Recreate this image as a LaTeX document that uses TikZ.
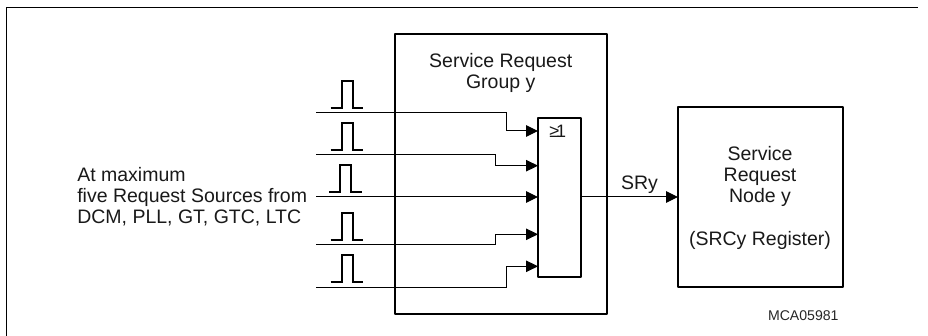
\documentclass[tikz,border=0pt]{standalone}
\usepackage{fontspec}
\setmainfont{Liberation Sans}
\usetikzlibrary{arrows.meta}
\tikzset{
  box/.style={draw=black,line width=2.3pt,inner sep=0pt,outer sep=0pt,fill=none,line join=round},
  frameline/.style={draw=black,line width=1.7pt},
  wire/.style={draw=black,line width=1pt},
  arrowwire/.style={wire,-{Triangle[length=12pt,width=11.5pt]}},
  pulse/.style={draw=black,line width=2pt},
  label/.style={inner sep=0pt,outer sep=0pt,font=\fontsize{19.5}{21.4}\selectfont,text=black!90},
  small/.style={inner sep=0pt,outer sep=0pt,font=\fontsize{14.1}{16}\selectfont,text=black!85},
  pics/pulseshape/.style={code={\draw[pulse] (0,0) -- ++(11,0) -- ++(0,-#1) -- ++(11,0) -- ++(0,#1) -- ++(10.7,0);}}
}
\begin{document}
\begin{tikzpicture}[x=1pt,y=-1pt]
\useasboundingbox (0,0) rectangle (928,336);
% outer frame
\coordinate (frameBL) at (6.5,336);
\coordinate (frameTR) at (918,7.5);
\draw[frameline] (frameBL) |- (frameTR);
% boxes
\node[box,minimum width=212pt,minimum height=280pt,anchor=north west] (group) at (395,33.7) {};
\node[box,minimum width=43pt,minimum height=159pt,anchor=north west] (orgate) at (538,118) {};
\node[box,minimum width=165pt,minimum height=180pt,anchor=north west] (srn) at (678,107) {};
% texts
\node[label,align=center,anchor=base] (grouptext) at (500.7,89) {Service Request\\Group y};
\node[label,align=center,anchor=base] (srntext) at (760,245.7) {Service\\Request\\Node y\\[21.4pt](SRCy Register)};
\node[label,align=left,anchor=base west] (srctext) at (77.3,224) {At maximum\\five Request Sources from\\DCM, PLL, GT, GTC, LTC};
\node[label,anchor=base west] (srylabel) at (621,190) {SRy};
\node[small,anchor=base west] (idlabel) at (768,320) {MCA05981};
\node[inner sep=0pt,font=\fontsize{18}{20}\selectfont,anchor=base,text=black!90] (orlabel) at (557.7,137.7) {≥\kern-3pt 1};
% input wires
\coordinate (i1) at (316,112.7);
\coordinate (i2) at (316,155);
\coordinate (i3) at (316,197);
\coordinate (i4) at (316,245);
\coordinate (i5) at (316,287.3);
\coordinate (t1) at (orgate.west |- 0,131);
\coordinate (t2) at (orgate.west |- 0,165.7);
\coordinate (t3) at (orgate.west |- 0,197);
\coordinate (t4) at (orgate.west |- 0,234.3);
\coordinate (t5) at (orgate.west |- 0,266.3);
\coordinate (b1) at (506,112.7);
\coordinate (b2) at (495,155);
\coordinate (b4) at (495,245);
\coordinate (b5) at (506,287.3);
\draw[arrowwire] (i1) -- (b1) |- (t1);
\draw[arrowwire] (i2) -- (b2) |- (t2);
\draw[arrowwire] (i3) -- (t3);
\draw[arrowwire] (i4) -- (b4) |- (t4);
\draw[arrowwire] (i5) -- (b5) |- (t5);
% output
\coordinate (o1) at (orgate.east |- 0,197);
\coordinate (o2) at (srn.west |- 0,197);
\draw[arrowwire] (o1) -- (o2);
% pulses
\pic at (330.7,107.7) {pulseshape=26.7};
\pic at (330.7,149.7) {pulseshape=26.4};
\pic at (329.3,192.3) {pulseshape=27};
\pic at (330.7,240) {pulseshape=27};
\pic at (330.7,282) {pulseshape=26.7};
\end{tikzpicture}
\end{document}
